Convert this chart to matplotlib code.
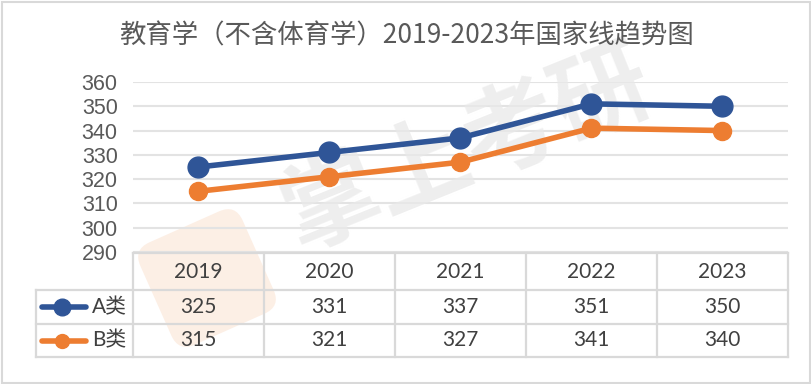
import matplotlib
matplotlib.use("Agg")
import matplotlib.pyplot as plt
from matplotlib.patches import FancyBboxPatch, Rectangle
from matplotlib.transforms import Affine2D, IdentityTransform

plt.rcParams['font.family'] = ['Noto Sans CJK SC', 'DejaVu Sans']

title = "教育学（不含体育学）2019-2023年国家线趋势图"
years = ["2019", "2020", "2021", "2022", "2023"]
series_names = ["A类", "B类"]
a_vals = [325, 331, 337, 351, 350]
b_vals = [315, 321, 327, 341, 340]
yticks = [290, 300, 310, 320, 330, 340, 350, 360]
colors = ["#2F5597", "#ED7D31"]

W, H = 812, 384
fig = plt.figure(figsize=(W / 100, H / 100), dpi=100)

def px_axes(x0, y0, x1, y1, **kw):
    return fig.add_axes([x0 / W, 1 - y1 / H, (x1 - x0) / W, (y1 - y0) / H], **kw)

# figure border
fig.patches.append(Rectangle((0.002, 0.003), 0.995, 0.993, transform=fig.transFigure,
                             fill=False, edgecolor="#d9d9d9", linewidth=1.5, zorder=-2))

fig.text(406 / W, 1 - 36 / H, title, ha="center", va="center", fontsize=19, color="#595959")

# faint logo watermark (rotated rounded square), behind everything
cx, cy, sz = 207, H - 278, 112
logo = FancyBboxPatch((cx - sz / 2, cy - sz / 2), sz, sz,
                      boxstyle="round,pad=0,rounding_size=18",
                      facecolor="#fbe2d0", edgecolor="none", alpha=0.55,
                      transform=Affine2D().rotate_deg_around(cx, cy, 24) + IdentityTransform(),
                      zorder=-1)
fig.patches.append(logo)

# plot axes
x0, x1 = 133, 788
ax = px_axes(x0, 82, x1, 252)
ax.set_zorder(2)
ax.patch.set_alpha(0)
ax.set_xlim(-0.5, len(years) - 0.5)
ax.set_ylim(290, 360)
ax.set_yticks(yticks)
ax.set_yticklabels([str(v) for v in yticks], family="Liberation Sans")
ax.tick_params(axis="y", length=0, pad=11, labelsize=15.5, labelcolor="#595959")
ax.set_xticks([])
for s in ax.spines.values():
    s.set_visible(False)
ax.grid(axis="y", color="#e3e3e3", linewidth=1.5, zorder=0)
ax.set_axisbelow(True)

# watermark text
ax.text(2.05, 332, "掌上考研", fontsize=70, fontweight="bold", color="#e9e9e9", alpha=0.75,
        rotation=22, ha="center", va="center", zorder=1)

xs = list(range(len(years)))
ax.plot(xs, a_vals, color=colors[0], linewidth=4, marker="o", markersize=15, zorder=3)
ax.plot(xs, b_vals, color=colors[1], linewidth=4, marker="o", markersize=13, zorder=3)

# data table
col_w = (x1 - x0) / len(years)
tx0 = 36
tab = px_axes(tx0, 253, x1, 357)
tab.set_zorder(2)
left = -0.5 - (x0 - tx0) / col_w
tab.set_xlim(left, len(years) - 0.5)
tab.set_ylim(3, 0)
tab.axis("off")
b0, b1, b2, b3 = 0, 37 / 104 * 3, 71 / 104 * 3, 3
lc = "#d9d9d9"
lw = 1.6
tab.plot([-0.5, len(years) - 0.5], [b0, b0], color=lc, lw=lw, clip_on=False)
for yb in (b1, b2, b3):
    tab.plot([left, len(years) - 0.5], [yb, yb], color=lc, lw=lw, clip_on=False)
for i in range(len(years) + 1):
    tab.plot([i - 0.5, i - 0.5], [b0, b3], color=lc, lw=lw, clip_on=False)
tab.plot([left, left], [b1, b3], color=lc, lw=lw, clip_on=False)

tfam = ["Lato", "Noto Sans CJK SC"]
for i, y in enumerate(years):
    tab.text(i, (b0 + b1) / 2, y, ha="center", va="center", fontsize=15, color="#404040",
             family=tfam)
for vals, yc in ((a_vals, (b1 + b2) / 2), (b_vals, (b2 + b3) / 2)):
    for i, v in enumerate(vals):
        tab.text(i, yc, str(v), ha="center", va="center", fontsize=15, color="#404040",
                 family=tfam)

# legend keys
for k, (name, yc, ms) in enumerate(((series_names[0], (b1 + b2) / 2, 12),
                                    (series_names[1], (b2 + b3) / 2, 10))):
    lx0 = left + (42 - tx0) / col_w
    lx1 = left + (86 - tx0) / col_w
    lxm = left + (62 - tx0) / col_w
    tab.plot([lx0, lx1], [yc, yc], color=colors[k], lw=4, solid_capstyle="round", clip_on=False)
    tab.plot([lxm], [yc], color=colors[k], marker="o", markersize=ms, clip_on=False)
    tab.text(left + (92 - tx0) / col_w, yc, name, ha="left", va="center", fontsize=15,
             color="#404040", family=tfam)

fig.savefig("out.png", dpi=100)
